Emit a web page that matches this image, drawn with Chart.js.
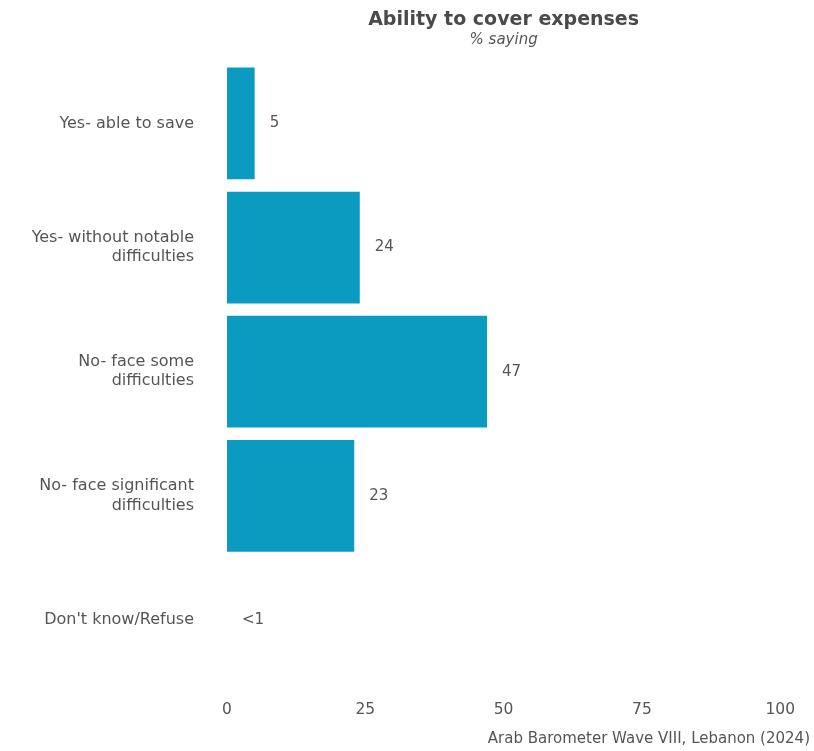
<!DOCTYPE html>
<html>
<head>
<meta charset="utf-8">
<script src="https://cdn.jsdelivr.net/npm/chart.js@4.4.1/dist/chart.umd.min.js"></script>
<style>
    html, body { margin: 0; padding: 0; background: #fff; }
    #wrap { width: 814px; height: 751px; }
</style>
</head>
<body>
<div id="wrap"><canvas id="expensesChart"></canvas></div>
<script>
    var categories = [
        'Yes- able to save',
        ['Yes- without notable', 'difficulties'],
        ['No- face some', 'difficulties'],
        ['No- face significant', 'difficulties'],
        "Don't know/Refuse"
    ];
    var shares = [5, 24, 47, 23, 0];
    var shareLabels = ['5', '24', '47', '23', '<1'];
    var xTicks = [0, 25, 50, 75, 100];
    var source = 'Arab Barometer Wave VIII, Lebanon (2024)';

    var textColor = '#555555';
    var fontFamily = '"DejaVu Sans", sans-serif';

    // value labels next to each bar, plus the source line
    var extras = {
        id: 'extras',
        afterDatasetsDraw: function(chart) {
            var ctx = chart.ctx;
            var meta = chart.getDatasetMeta(0);
            ctx.save();
            ctx.fillStyle = textColor;
            ctx.font = '15px ' + fontFamily;
            ctx.textAlign = 'left';
            ctx.textBaseline = 'middle';
            meta.data.forEach(function(bar, i) {
                ctx.fillText(shareLabels[i], bar.x + 15, bar.y);
            });
            ctx.font = '15px ' + fontFamily;
            ctx.textAlign = 'right';
            ctx.fillText(source, chart.width - 4, 739);
            ctx.restore();
        }
    };

    var ctx = document.getElementById('expensesChart').getContext('2d');
    new Chart(ctx, {
        type: 'bar',
        data: {
            labels: categories,
            datasets: [{
                data: shares,
                backgroundColor: '#0B9BC1',
                borderWidth: 0,
                categoryPercentage: 0.9,
                barPercentage: 1
            }]
        },
        options: {
            indexAxis: 'y',
            responsive: true,
            maintainAspectRatio: false,
            animation: false,
            layout: { padding: { top: 10, right: 29, bottom: 24, left: 0 } },
            plugins: {
                legend: { display: false },
                tooltip: { enabled: false },
                title: {
                    display: true,
                    text: 'Ability to cover expenses',
                    fullSize: false,
                    color: '#4a4a4a',
                    font: { family: fontFamily, size: 19, weight: 'bold', lineHeight: 1.1 },
                    padding: { top: 0, bottom: 1 }
                },
                subtitle: {
                    display: true,
                    text: '% saying',
                    fullSize: false,
                    color: textColor,
                    font: { family: fontFamily, size: 15, style: 'italic', lineHeight: 1.1 },
                    padding: { top: 0, bottom: 13 }
                }
            },
            scales: {
                x: {
                    min: 0,
                    max: 100,
                    afterBuildTicks: function(scale) {
                        scale.ticks = xTicks.map(function(v) { return { value: v }; });
                    },
                    afterFit: function(scale) { scale.height = 45; },
                    grid: { display: false, drawTicks: false },
                    border: { display: false },
                    ticks: {
                        color: textColor,
                        padding: 19,
                        maxRotation: 0,
                        font: { family: fontFamily, size: 15.5 }
                    }
                },
                y: {
                    afterFit: function(scale) { scale.width = 227; },
                    grid: { display: false, drawTicks: false },
                    border: { display: false },
                    ticks: {
                        color: textColor,
                        padding: 33,
                        font: { family: fontFamily, size: 16, lineHeight: 1.2 }
                    }
                }
            }
        },
        plugins: [extras]
    });
</script>
</body>
</html>
